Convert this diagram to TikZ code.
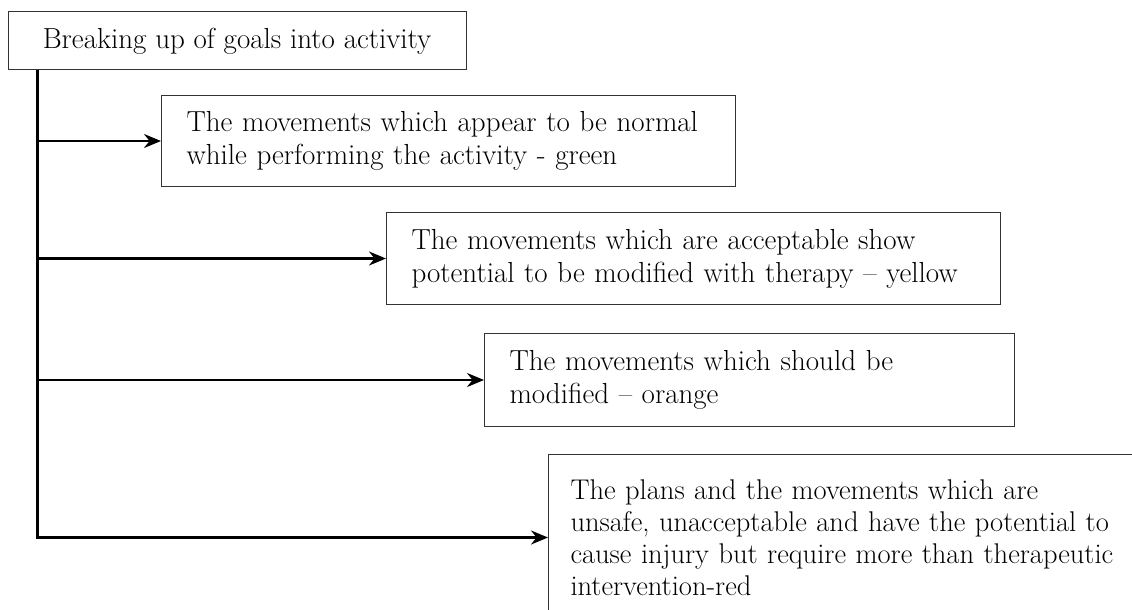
\documentclass[tikz,border=0pt]{standalone}
\usepackage{fontspec}
\usepackage{tikz}
\usetikzlibrary{positioning, arrows.meta}

\begin{document}
\begin{tikzpicture}[
    x=1pt, y=-1pt,
    goalbox/.style={rectangle, draw=black!80, line width=1pt, minimum width=458pt, minimum height=58pt, font=\fontsize{29}{33}\selectfont},
    levelbox/.style={rectangle, draw=black!80, line width=1pt, anchor=north west, align=left, inner xsep=25pt, font=\fontsize{29}{33}\selectfont},
    arrow/.style={-{Stealth[length=17pt, width=14pt]}, line width=2.2pt}
]
\useasboundingbox (0,0) rectangle (1132,610);
\clip (0,0) rectangle (1132,610);

% Goal at the top
\node[goalbox] (goal) at (237, 41) {Breaking up of goals into activity};

% Levels of movement
\node[levelbox, text width=524pt, minimum height=91pt] (normal) at (161, 95) {The movements which appear to be normal\\while performing the activity - green};
\node[levelbox, text width=564pt, minimum height=92pt] (accept) at (386, 212) {The movements which are acceptable show\\potential to be modified with therapy -- yellow};
\node[levelbox, text width=480pt, minimum height=93pt] (modify) at (484, 333) {The movements which should be\\modified -- orange};
\node[levelbox, inner xsep=22pt, text width=560pt, minimum height=166pt, font=\fontsize{28.5}{32}\selectfont] (unsafe) at (548, 454) {The plans and the movements which are\\unsafe, unacceptable and have the potential to\\cause injury but require more than therapeutic\\intervention-red};

% Trunk line and branches
\coordinate (trunk) at ([xshift=30pt]goal.south west);
\draw[arrow] (trunk) |- (unsafe.west);
\foreach \lvl in {normal, accept, modify} {
    \draw[arrow] (trunk |- \lvl.west) -- (\lvl.west);
}

\end{tikzpicture}
\end{document}
